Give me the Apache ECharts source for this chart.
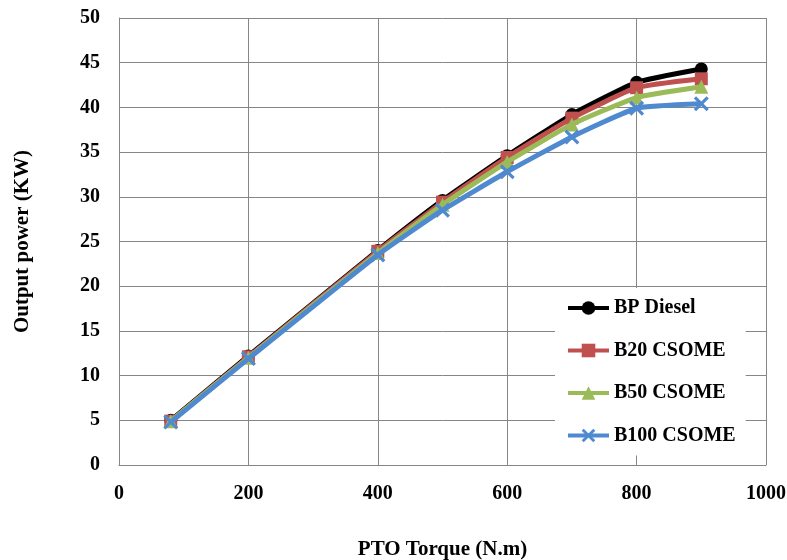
<!DOCTYPE html>
<html>
<head>
<meta charset="utf-8">
<script src="https://cdn.jsdelivr.net/npm/echarts@6/dist/echarts.min.js"></script>
<style>html,body{margin:0;padding:0;background:#fff;}#c{width:787px;height:560px;}</style>
</head>
<body>
<div id="c"></div>
<script>
const torque = [80, 200, 400, 500, 600, 700, 800, 900];
const bpDiesel = [5.0, 12.2, 24.0, 29.6, 34.6, 39.2, 42.8, 44.3];
const b20 = [4.9, 12.1, 23.9, 29.4, 34.4, 38.8, 42.2, 43.2];
const b50 = [4.9, 12.0, 23.7, 29.1, 33.9, 38.1, 41.1, 42.3];
const b100 = [4.8, 11.9, 23.5, 28.5, 32.8, 36.7, 39.9, 40.4];
const seriesNames = ['BP Diesel', 'B20 CSOME', 'B50 CSOME', 'B100 CSOME'];

const FONT = 'Liberation Serif, Times New Roman, serif';
const xMark = 'path://M3,0 L10,7 L17,0 L20,3 L13,10 L20,17 L17,20 L10,13 L3,20 L0,17 L7,10 L0,3 Z';
const pair = (ys) => torque.map((x, i) => [x, ys[i]]);

const styles = [
  {color: '#000000', symbol: 'circle', size: 13},
  {color: '#C0504D', symbol: 'rect', size: 13},
  {color: '#9BBB59', symbol: 'triangle', size: 14},
  {color: '#4F8AD0', symbol: xMark, size: 15}
];
const dataSets = [bpDiesel, b20, b50, b100];

const chart = echarts.init(document.getElementById('c'), null, {renderer: 'canvas'});
chart.setOption({
  backgroundColor: '#fff',
  animation: false,
  textStyle: {fontFamily: FONT},
  grid: {left: 119, right: 21, top: 18, bottom: 95, containLabel: false, outerBoundsMode: 'none'},
  xAxis: {
    type: 'value', min: 0, max: 1000, interval: 200,
    name: 'PTO Torque (N.m)', nameLocation: 'middle', nameGap: 74,
    nameTextStyle: {fontFamily: FONT, fontWeight: 'bold', fontSize: 21, color: '#000'},
    axisLine: {show: true, lineStyle: {color: '#868686', width: 1}},
    axisTick: {show: false},
    axisLabel: {fontFamily: FONT, fontWeight: 'bold', fontSize: 20, color: '#000', margin: 19,
      formatter: (v) => String(v)},
    splitLine: {show: true, lineStyle: {color: '#868686', width: 1}}
  },
  yAxis: {
    type: 'value', min: 0, max: 50, interval: 5,
    name: 'Output power (KW)', nameLocation: 'middle', nameGap: 86,
    nameTextStyle: {fontFamily: FONT, fontWeight: 'bold', fontSize: 21, color: '#000'},
    axisLine: {show: true, lineStyle: {color: '#868686', width: 1}},
    axisTick: {show: false},
    axisLabel: {fontFamily: FONT, fontWeight: 'bold', fontSize: 20, color: '#000', margin: 19},
    splitLine: {show: true, lineStyle: {color: '#868686', width: 1}}
  },
  legend: {
    orient: 'vertical', left: 555, top: 288,
    padding: [10, 10, 10, 11],
    backgroundColor: '#ffffff',
    itemWidth: 41, itemHeight: 17, itemGap: 22.5,
    lineStyle: {width: 4},
    textStyle: {fontFamily: FONT, fontWeight: 'bold', fontSize: 20, color: '#000', lineHeight: 20},
    data: seriesNames
  },
  series: seriesNames.map((name, i) => ({
    name: name,
    type: 'line',
    data: pair(dataSets[i]),
    smooth: 0.15,
    symbol: styles[i].symbol,
    symbolSize: styles[i].size,
    showAllSymbol: true,
    color: styles[i].color,
    lineStyle: {color: styles[i].color, width: 5},
    itemStyle: {color: styles[i].color},
    z: 2 + i
  }))
});
</script>
</body>
</html>
